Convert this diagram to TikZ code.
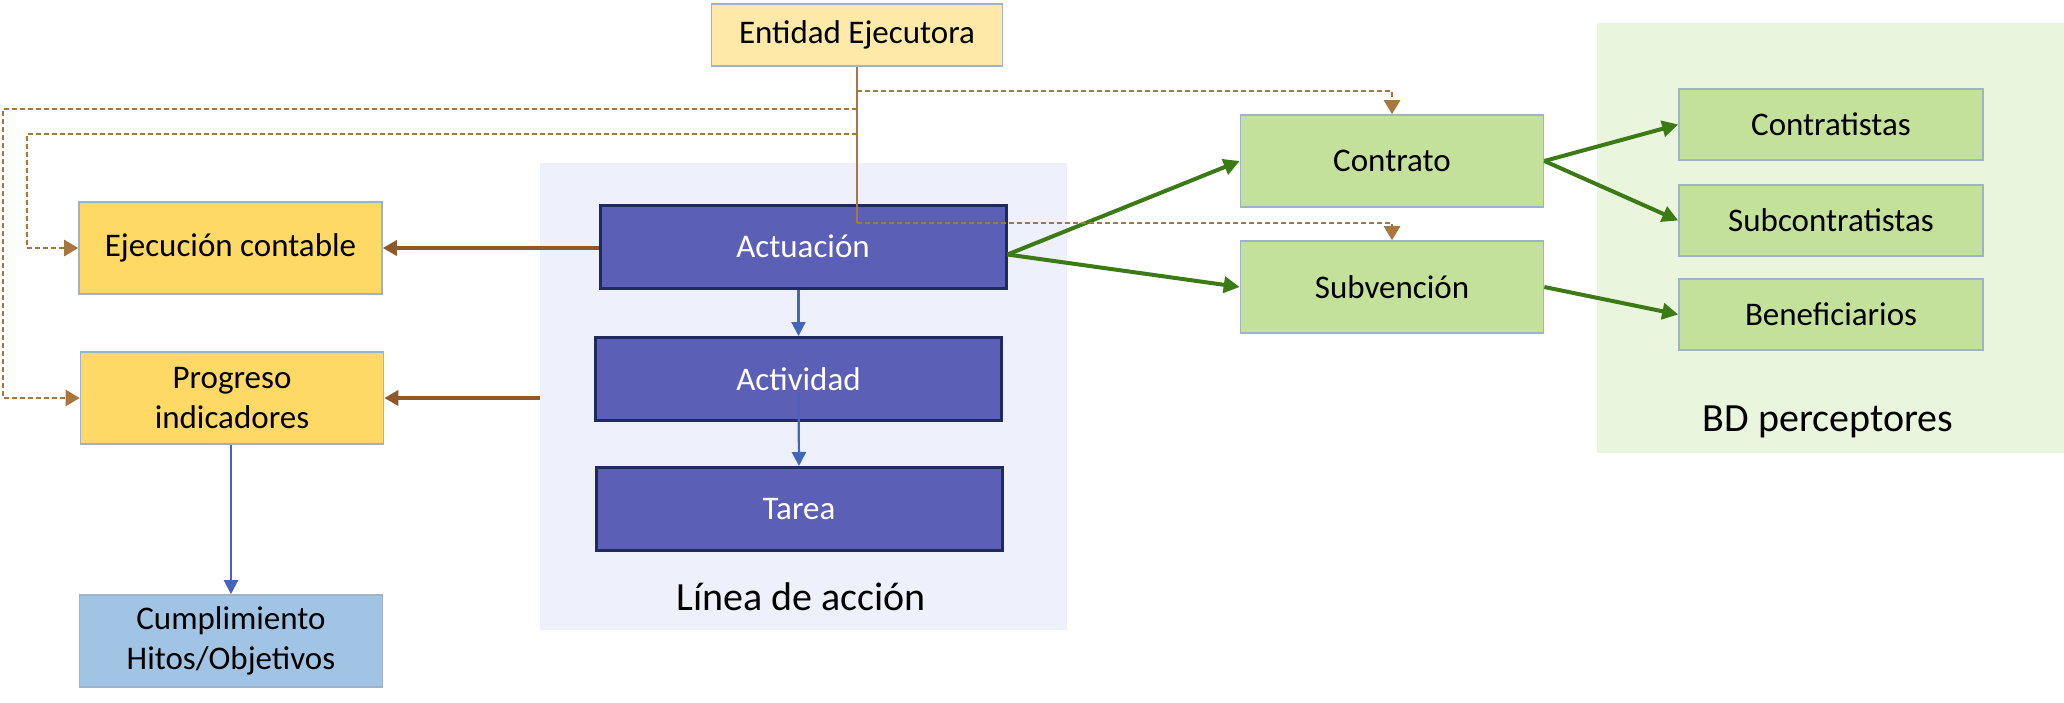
\documentclass[tikz,border=0pt]{standalone}
\usepackage{fontspec}
\setmainfont{Carlito}
\usetikzlibrary{arrows.meta,calc}
\definecolor{entfill}{HTML}{FFE9A8}
\definecolor{yelfill}{HTML}{FFD966}
\definecolor{cumfill}{HTML}{A2C4E4}
\definecolor{actfill}{HTML}{5B5FB6}
\definecolor{actline}{HTML}{1F2B5E}
\definecolor{grnfill}{HTML}{C3E19A}
\definecolor{boxline}{HTML}{9FB2CC}
\definecolor{panelA}{HTML}{EEF0FB}
\definecolor{panelB}{HTML}{E9F5DC}
\definecolor{grnarr}{HTML}{3C7A16}
\definecolor{brnarr}{HTML}{8C5A2B}
\definecolor{brndot}{HTML}{A8763F}
\definecolor{bluarr}{HTML}{4466B8}
\begin{document}
\begin{tikzpicture}[x=0.5pt,y=-0.5pt,
  boxfont/.style={font=\fontsize{16.5}{20}\selectfont},
  lbox/.style={boxfont,draw=boxline,line width=0.8pt,inner sep=2pt,align=center},
  wide/.style={minimum width=151.5pt,minimum height=46pt},
  entbox/.style={lbox,fill=entfill,minimum width=145.5pt,minimum height=31pt},
  yelbox/.style={lbox,wide,fill=yelfill},
  cumbox/.style={lbox,wide,fill=cumfill},
  grnbox/.style={lbox,wide,fill=grnfill},
  perbox/.style={lbox,fill=grnfill,minimum width=152pt,minimum height=35.5pt},
  actbox/.style={boxfont,draw=actline,line width=1.5pt,fill=actfill,text=white,minimum width=203pt,minimum height=41.5pt},
  panel/.style={inner sep=0pt,draw=none},
  plabel/.style={font=\fontsize{20}{24}\selectfont},
  brnline/.style={draw=brnarr,line width=2pt,-{Triangle[length=7pt,width=7.5pt]}},
  grnline/.style={draw=grnarr,line width=2pt,-{Triangle[length=8pt,width=8pt]}},
  bluline/.style={draw=bluarr,line width=1.1pt,-{Triangle[length=7pt,width=7pt]}},
  dotline/.style={draw=brndot,line width=1.4pt,dash pattern=on 2.5pt off 1.5pt},
  dotarrow/.style={dotline,-{Triangle[length=7pt,width=8pt]}},
  thinline/.style={draw=brndot,line width=1pt}
]
\useasboundingbox (0,0) rectangle (2064,702);
% panels
\node[panel,fill=panelA,minimum width=263.5pt,minimum height=233.5pt] (pa) at (803.5,396.5) {};
\node[panel,fill=panelB,minimum width=233.5pt,minimum height=215pt] (pb) at (1830.5,238) {};
\node[plabel] (la) at (801,597) {Línea de acción};
\node[plabel] (lb) at (1828,422) {BD perceptores};
% boxes
\node[entbox] (ent) at (857,35) {Entidad Ejecutora};
\node[yelbox] (ejec) at (230.5,248) {Ejecución contable};
\node[yelbox] (prog) at (232,398) {Progreso\\indicadores};
\node[cumbox] (cump) at (231,641) {Cumplimiento\\Hitos/Objetivos};
\node[actbox] (act) at (803,246.5) {Actuación};
\node[actbox] (actv) at (798.5,379) {Actividad};
\node[actbox] (tarea) at (799,509) {Tarea};
\node[grnbox] (contr) at (1392,161) {Contrato};
\node[grnbox] (subv) at (1392,287) {Subvención};
\node[perbox] (ctas) at (1831,124.5) {Contratistas};
\node[perbox] (sctas) at (1831,220.5) {Subcontratistas};
\node[perbox] (benef) at (1831,314.5) {Beneficiarios};
% coordinates for the dotted bus
\coordinate (b1) at (857,91);
\coordinate (b2) at (857,223);
\coordinate (b3) at (857,109);
\coordinate (b4) at (857,134);
\coordinate (xl1) at (3,0);
\coordinate (xl2) at (27,0);
% brown arrows
\draw[brnline] (act.west |- ejec.east) -- (ejec.east);
\draw[brnline] (pa.west |- prog.east) -- (prog.east);
% blue arrows
\draw[bluline] (actv.north |- act.south) -- (actv.north);
\draw[bluline] ([yshift=-7pt]actv.center) -- (tarea.north);
\draw[bluline] (cump.north |- prog.south) -- (cump.north);
% green arrows
\draw[grnline] ([yshift=-4pt]act.east) -- (contr.west);
\draw[grnline] ([yshift=-4pt]act.east) -- (subv.west);
\draw[grnline] (contr.east) -- (ctas.west);
\draw[grnline] (contr.east) -- (sctas.west);
\draw[grnline] (subv.east) -- (benef.west);
% dotted connectors from Entidad Ejecutora
\draw[thinline] (ent.south) -- (b2);
\draw[dotarrow] (b1) -| (contr.north);
\draw[dotarrow] (b2) -| (subv.north);
\draw[dotarrow] (b3) -- (b3 -| xl1) |- (prog.west);
\draw[dotarrow] (b4) -- (b4 -| xl2) |- (ejec.west);
\end{tikzpicture}
\end{document}
